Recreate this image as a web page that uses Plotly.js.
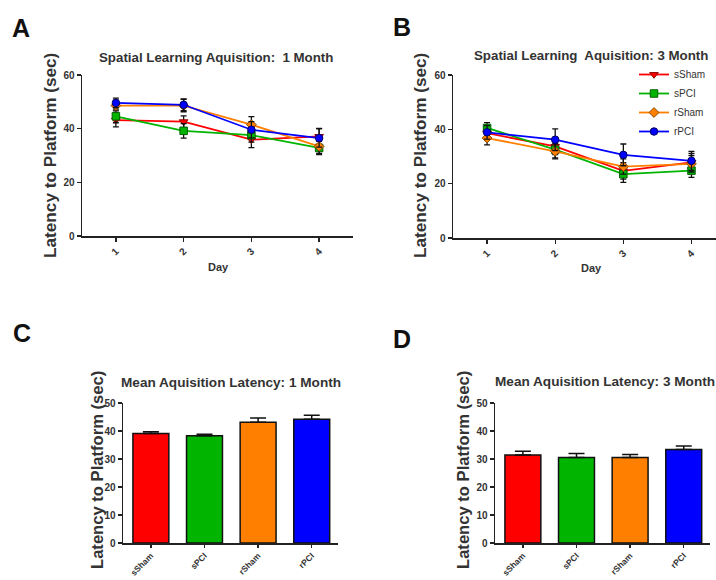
<!DOCTYPE html>
<html>
<head>
<meta charset="utf-8">
<script src="https://cdn.plot.ly/plotly-3.0.1.min.js"></script>
<style>html,body{margin:0;padding:0;background:#fff;}#chart{width:716px;height:580px;}</style>
</head>
<body>
<div id="chart"></div>
<script>
// ---- data ----
const groups = ["sSham", "sPCI", "rSham", "rPCI"];
const days = [1, 2, 3, 4];
const dayLabels = ["1", "2", "3", "4"];

// Panel A: 1 month, latency by day
const a_sSham = [43.2, 42.6, 35.9, 37.1];
const a_sPCI  = [44.6, 39.2, 37.6, 32.8];
const a_rSham = [48.6, 48.6, 41.5, 33.4];
const a_rPCI  = [49.6, 48.9, 39.6, 36.5];
const a_sSham_err = [2.5, 2.2, 3.0, 3.0];
const a_sPCI_err  = [2.4, 2.7, 2.6, 2.5];
const a_rSham_err = [2.0, 2.3, 3.0, 2.6];
const a_rPCI_err  = [1.8, 2.2, 3.0, 3.4];

// Panel B: 3 month, latency by day
const b_sSham = [38.6, 33.7, 24.7, 27.8];
const b_sPCI  = [40.5, 32.5, 23.5, 24.8];
const b_rSham = [36.8, 31.9, 26.3, 27.3];
const b_rPCI  = [38.9, 36.2, 30.6, 28.4];
const b_sSham_err = [2.5, 3.0, 3.0, 3.3];
const b_sPCI_err  = [2.0, 3.0, 3.0, 2.5];
const b_rSham_err = [2.5, 2.8, 2.8, 3.0];
const b_rPCI_err  = [2.5, 4.0, 4.0, 3.5];

// Panel C / D: mean acquisition latency
const c_mean = [39.1, 38.3, 43.1, 44.2];
const c_err  = [0.6, 0.5, 1.5, 1.4];
const d_mean = [31.4, 30.5, 30.5, 33.4];
const d_err  = [1.4, 1.5, 1.1, 1.2];
const zeroErr = [0, 0, 0, 0];

// ---- styles ----
const colors = {sSham: "#ff0000", sPCI: "#00b400", rSham: "#ff8000", rPCI: "#0000ff"};
const edge   = {sSham: "#8b0000", sPCI: "#006000", rSham: "#8a4a00", rPCI: "#000060"};
const symbols = {sSham: "triangle-down", sPCI: "square", rSham: "diamond", rPCI: "circle"};
const FONT = "Arial, 'Liberation Sans', sans-serif";
const TXT = "#333333";

function lineTrace(name, y, err, xa, ya, showLegend) {
  return {
    type: "scatter", mode: "lines+markers", name: name,
    x: days, y: y, xaxis: xa, yaxis: ya, showlegend: showLegend,
    line: {color: colors[name], width: 1.8},
    marker: {symbol: symbols[name], size: 7.5, color: colors[name], line: {color: edge[name], width: 1}},
    error_y: {type: "data", array: err, visible: true, color: "#111", thickness: 1.3, width: 3}
  };
}

const traces = [
  lineTrace("sSham", a_sSham, a_sSham_err, "x", "y", false),
  lineTrace("sPCI",  a_sPCI,  a_sPCI_err,  "x", "y", false),
  lineTrace("rSham", a_rSham, a_rSham_err, "x", "y", false),
  lineTrace("rPCI",  a_rPCI,  a_rPCI_err,  "x", "y", false),
  lineTrace("sSham", b_sSham, b_sSham_err, "x2", "y2", true),
  lineTrace("sPCI",  b_sPCI,  b_sPCI_err,  "x2", "y2", true),
  lineTrace("rSham", b_rSham, b_rSham_err, "x2", "y2", true),
  lineTrace("rPCI",  b_rPCI,  b_rPCI_err,  "x2", "y2", true),
  {
    type: "bar", x: groups, y: c_mean, xaxis: "x3", yaxis: "y3", showlegend: false, width: 0.67,
    marker: {color: groups.map(g => colors[g]), line: {color: "#111", width: 1.5}},
    error_y: {type: "data", symmetric: false, array: c_err, arrayminus: zeroErr, color: "#111", thickness: 1.5, width: 8}
  },
  {
    type: "bar", x: groups, y: d_mean, xaxis: "x4", yaxis: "y4", showlegend: false, width: 0.67,
    marker: {color: groups.map(g => colors[g]), line: {color: "#111", width: 1.5}},
    error_y: {type: "data", symmetric: false, array: d_err, arrayminus: zeroErr, color: "#111", thickness: 1.5, width: 8}
  }
];

const W = 716, H = 580;
const px = v => v / W;
const py = v => 1 - v / H;

const axisBase = {
  showline: true, linecolor: "#222", linewidth: 1.5, showgrid: false, zeroline: false,
  ticks: "outside", ticklen: 4, tickwidth: 1.3, tickcolor: "#222",
  tickfont: {family: FONT, size: 10, color: TXT, weight: "bold"}, fixedrange: true
};
const catTickFont = {family: FONT, size: 8.5, color: TXT, weight: "bold"};

const layout = {
  width: W, height: H,
  margin: {l: 0, r: 0, t: 0, b: 0},
  paper_bgcolor: "#fff", plot_bgcolor: "#fff",
  font: {family: FONT, color: TXT},
  xaxis:  Object.assign({}, axisBase, {domain: [px(82), px(353)], range: [0.5, 4.5], anchor: "y",
           tickvals: days, ticktext: dayLabels, tickangle: -45}),
  yaxis:  Object.assign({}, axisBase, {domain: [py(236), py(75)], range: [0, 60], dtick: 20, anchor: "x"}),
  xaxis2: Object.assign({}, axisBase, {domain: [px(453), 1], range: [0.5, 4.36], anchor: "y2",
           tickvals: days, ticktext: dayLabels, tickangle: -45}),
  yaxis2: Object.assign({}, axisBase, {domain: [py(238), py(75)], range: [0, 60], dtick: 20, anchor: "x2"}),
  xaxis3: Object.assign({}, axisBase, {domain: [px(123), px(338)], range: [-0.52, 3.49], anchor: "y3",
           type: "category", tickangle: -45, tickfont: catTickFont, ticklen: 3}),
  yaxis3: Object.assign({}, axisBase, {domain: [py(543), py(403)], range: [0, 50], dtick: 10, anchor: "x3"}),
  xaxis4: Object.assign({}, axisBase, {domain: [px(495), px(710)], range: [-0.52, 3.49], anchor: "y4",
           type: "category", tickangle: -45, tickfont: catTickFont, ticklen: 3}),
  yaxis4: Object.assign({}, axisBase, {domain: [py(543), py(403)], range: [0, 50], dtick: 10, anchor: "x4"}),
  legend: {
    x: px(634), y: py(60), xanchor: "left", yanchor: "top", bgcolor: "rgba(0,0,0,0)",
    font: {family: FONT, size: 10, color: TXT}, tracegroupgap: 0, itemwidth: 30
  },
  annotations: []
};

function ann(text, x, y, size, opts) {
  return Object.assign({
    text: text, x: px(x), y: py(y), xref: "paper", yref: "paper", showarrow: false,
    xanchor: "center", yanchor: "middle",
    font: {family: FONT, size: size, color: TXT, weight: "bold"}
  }, opts || {});
}

const letterFont = {family: FONT, size: 25, color: "#111", weight: "bold"};
layout.annotations.push(
  ann("A", 21, 28, 25, {font: letterFont}),
  ann("B", 402, 27, 25, {font: letterFont}),
  ann("C", 22, 333, 25, {font: letterFont}),
  ann("D", 402, 339, 25, {font: letterFont}),
  ann("Spatial Learning Aquisition:  1 Month", 216, 57, 13.3),
  ann("Spatial Learning  Aquisition: 3 Month", 591, 55, 13.3),
  ann("Mean Aquisition Latency: 1 Month", 231, 382, 13.6),
  ann("Mean Aquisition Latency: 3 Month", 605, 381, 13.6),
  ann("Day", 218, 267, 11),
  ann("Day", 591, 268, 11),
  ann("Latency to Platform (sec)", 50, 156, 17.2, {textangle: -90}),
  ann("Latency to Platform (sec)", 420, 156, 17.2, {textangle: -90}),
  ann("Latency to Platform (sec)", 97, 470, 16.6, {textangle: -90}),
  ann("Latency to Platform (sec)", 463, 470, 16.6, {textangle: -90})
);

Plotly.newPlot("chart", traces, layout, {staticPlot: true, displayModeBar: false});
</script>
</body>
</html>
